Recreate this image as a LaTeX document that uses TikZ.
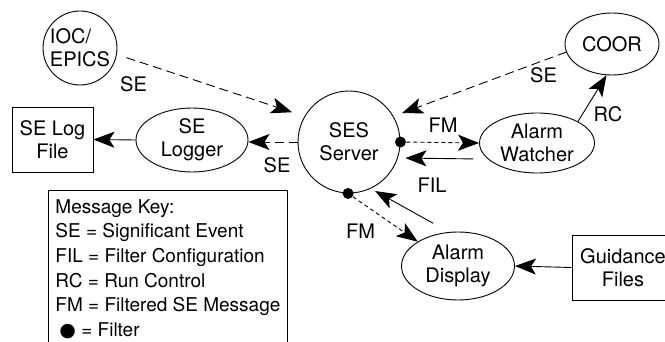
\documentclass[tikz,border=0pt]{standalone}
\usepackage{fontspec}
\setmainfont{TeX Gyre Heros}
\newfontfamily\symbfont{DejaVu Sans}
\usetikzlibrary{shapes.geometric,arrows.meta}

\begin{document}
\begin{tikzpicture}[
    x=1pt, y=-1pt,
    line width=0.9pt,
    font=\fontsize{20}{23}\selectfont,
    proc/.style={circle, draw, align=center, inner sep=0pt},
    task/.style={ellipse, draw, align=center, inner sep=0pt},
    filebox/.style={rectangle, draw, align=center, inner sep=0pt},
    filter/.style={circle, fill, inner sep=0pt, minimum size=11pt},
    lbl/.style={inner sep=0pt},
    arrow/.style={-{Stealth[length=21pt,width=16pt,inset=5pt]}},
    dasharrow/.style={arrow, dash pattern=on 9pt off 5pt},
    fmarrow/.style={arrow, dash pattern=on 4pt off 3pt}
]
\useasboundingbox (0,0) rectangle (665,342);

% Processes
\node[proc, minimum size=74pt, align=left] (ioc) at (80,48) {IOC/\\EPICS};
\node[proc, minimum size=102pt] (ses) at (349,142) {SES\\Server};
\node[task, minimum width=112pt, minimum height=64pt] (logger) at (192,140) {SE\\Logger};
\node[task, minimum width=94pt, minimum height=62pt] (coor) at (612,44) {COOR};
\node[task, minimum width=115pt, minimum height=60pt] (watcher) at (537,143) {Alarm\\Watcher};
\node[task, minimum width=113pt, minimum height=68pt] (display) at (458,266) {Alarm\\Display};

% Files
\node[filebox, minimum width=81pt, minimum height=65pt] (logfile) at (52.5,139.5) {SE Log\\File};
\node[filebox, minimum width=102pt, minimum height=65pt] (guide) at (623,267.5) {Guidance\\Files};

% Filters
\node[filter] (fil1) at (ses.east) {};
\node[filter] (fil2) at (ses.-91) {};

% Key
\node[filebox, anchor=north west, align=left, inner xsep=7pt, inner ysep=9pt, text depth=20pt,
      font=\fontsize{19}{24.6}\selectfont] (key) at (48,190)
    {Message Key:\\SE = Significant Event\\FIL = Filter Configuration\\RC = Run Control\\
     FM = Filtered SE Message\\\hspace{4pt}{\symbfont ●} = Filter};

% Arrows
\draw[dasharrow, shorten <=10pt, shorten >=13pt] (ioc.-10) -- (ses.150);
\draw[dasharrow] (ses.west) -- (ses.west -| logger.east);
\draw[arrow] (logger.west) -- (logfile.east);
\draw[dasharrow, shorten >=9pt] (coor.190) -- (ses.30);
\draw[arrow] (watcher.north east) -- (coor.-100);
\draw[fmarrow] (fil1) -- (watcher.west);
\draw[arrow, shorten <=6pt, shorten >=5pt] ([yshift=-16pt]watcher.west) -- ([yshift=-16pt]ses.east);
\draw[fmarrow] (fil2) -- (display.north west);
\draw[arrow, shorten <=18pt, shorten >=5pt] (display.105) -- (ses.-65);
\draw[arrow] (guide.west) -- (display.east);

% Labels
\node[lbl] (se1) at (133.5,84.5) {SE};
\node[lbl] (se2) at (277,165.5) {SE};
\node[lbl] (se3) at (543.5,75.5) {SE};
\node[lbl] (rc) at (608,114.5) {RC};
\node[lbl] (fm1) at (443,125.5) {FM};
\node[lbl] (fil) at (432,185) {FIL};
\node[lbl] (fm2) at (360.5,231.5) {FM};

\end{tikzpicture}
\end{document}
